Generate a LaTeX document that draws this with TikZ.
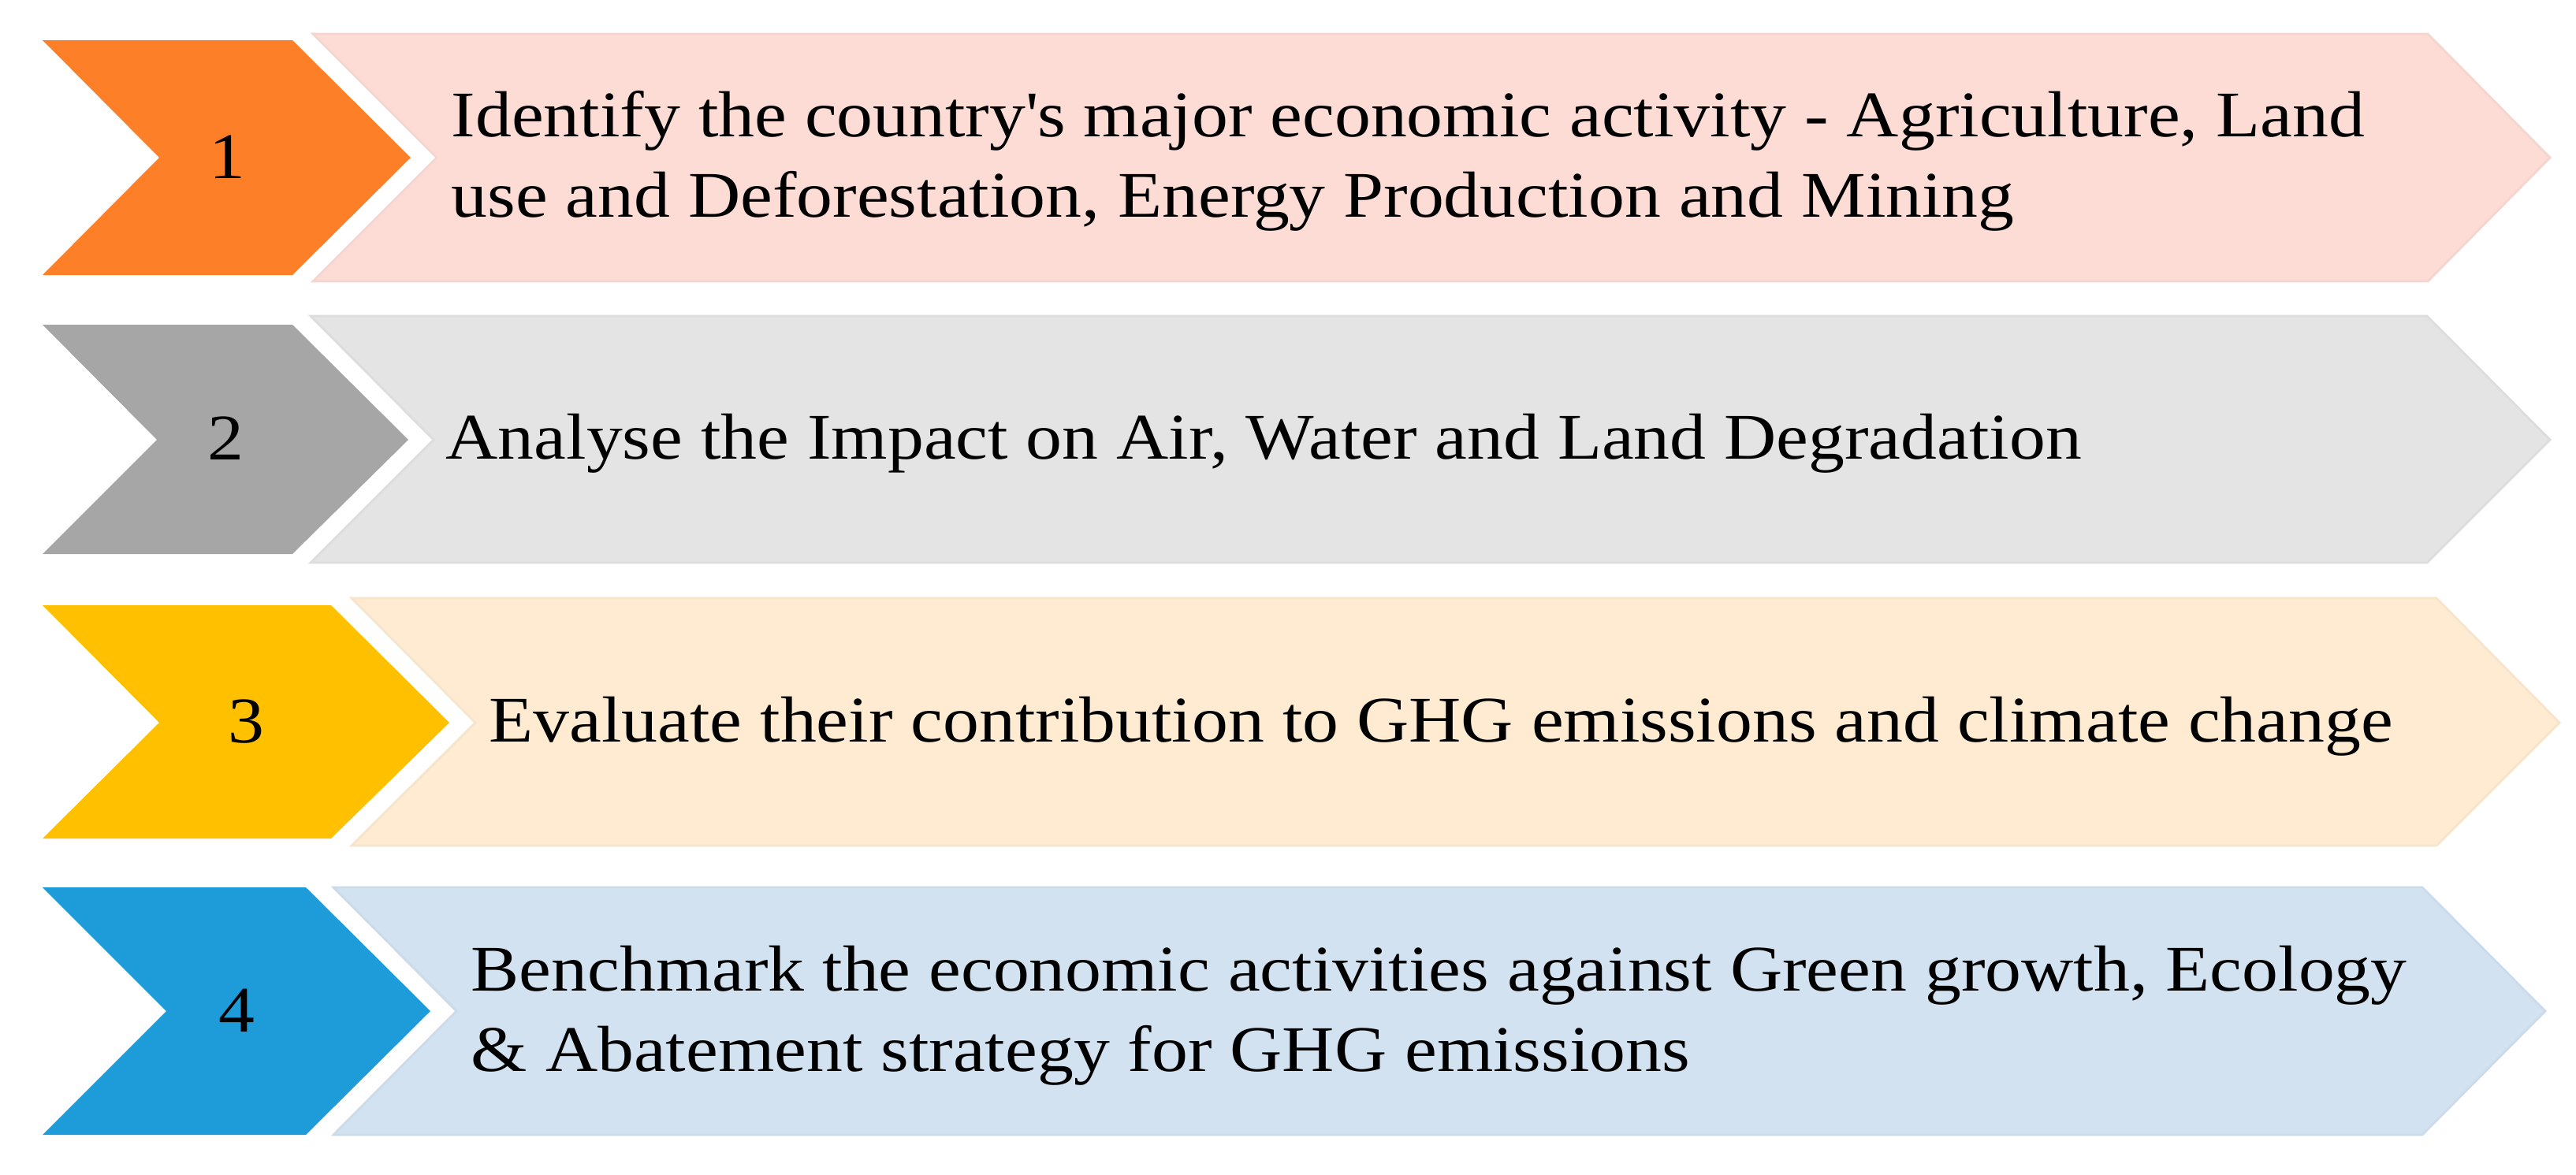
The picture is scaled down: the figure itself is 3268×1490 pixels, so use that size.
\documentclass[tikz,border=0pt]{standalone}
\usepackage{fontspec}
\setmainfont[FakeStretch=1.11]{Liberation Serif}
\definecolor{chevOrange}{RGB}{253,127,39}
\definecolor{bandPink}{RGB}{253,220,213}
\definecolor{chevGray}{RGB}{166,166,166}
\definecolor{bandGray}{RGB}{228,228,228}
\definecolor{chevYellow}{RGB}{255,192,0}
\definecolor{bandCream}{RGB}{254,235,209}
\definecolor{chevBlue}{RGB}{30,156,217}
\definecolor{bandBlue}{RGB}{210,226,241}
\tikzset{
  steptext/.style={anchor=base west,inner sep=0pt,font=\fontsize{23.5}{29}\selectfont},
  stepnum/.style={anchor=base,inner sep=0pt,font=\fontsize{23.5}{29}\selectfont},
  band/.style={fill=#1,draw=#1!97!black,line width=0.8pt,line join=miter}
}
\begin{document}
\begin{tikzpicture}[x=0.01cm,y=-0.01cm]
\useasboundingbox (0,0) rectangle (3268,1490);

% row 1
\fill[chevOrange] (54,51) -- (371,51) -- (521,200) -- (371,349) -- (54,349) -- (202,200) -- cycle;
\filldraw[band=bandPink] (397,43) -- (3080,43) -- (3235,200) -- (3080,357) -- (397,357) -- (554,200) -- cycle;
\node[stepnum] (num1) at (288,226) {1};
\node[steptext] (txt1a) at (572,173) {Identify the country\textquotesingle s major economic activity - Agriculture, Land};
\node[steptext] (txt1b) at (572,275) {use and Deforestation, Energy Production and Mining};

% row 2
\fill[chevGray] (54,412) -- (371,412) -- (518,558) -- (371,703) -- (54,703) -- (199,558) -- cycle;
\filldraw[band=bandGray] (394,401) -- (3079,401) -- (3235,558) -- (3079,714) -- (394,714) -- (550,558) -- cycle;
\node[stepnum] (num2) at (286,583) {2};
\node[steptext] (txt2) at (565,582) {Analyse the Impact on Air, Water and Land Degradation};

% row 3
\fill[chevYellow] (54,768) -- (420,768) -- (570,917) -- (420,1064) -- (54,1064) -- (202,917) -- cycle;
\filldraw[band=bandCream] (446,759) -- (3091,759) -- (3247,917) -- (3091,1073) -- (446,1073) -- (603,917) -- cycle;
\node[stepnum] (num3) at (312,942) {3};
\node[steptext] (txt3) at (620,941) {Evaluate their contribution to GHG emissions and climate change};

% row 4
\fill[chevBlue] (54,1126) -- (388,1126) -- (546,1283) -- (388,1440) -- (54,1440) -- (211,1283) -- cycle;
\filldraw[band=bandBlue] (423,1126) -- (3073,1126) -- (3229,1283) -- (3073,1440) -- (423,1440) -- (579,1283) -- cycle;
\node[stepnum] (num4) at (300,1309) {4};
\node[steptext] (txt4a) at (597,1257) {Benchmark the economic activities against Green growth, Ecology};
\node[steptext] (txt4b) at (597,1359) {\& Abatement strategy for GHG emissions};

\end{tikzpicture}
\end{document}
